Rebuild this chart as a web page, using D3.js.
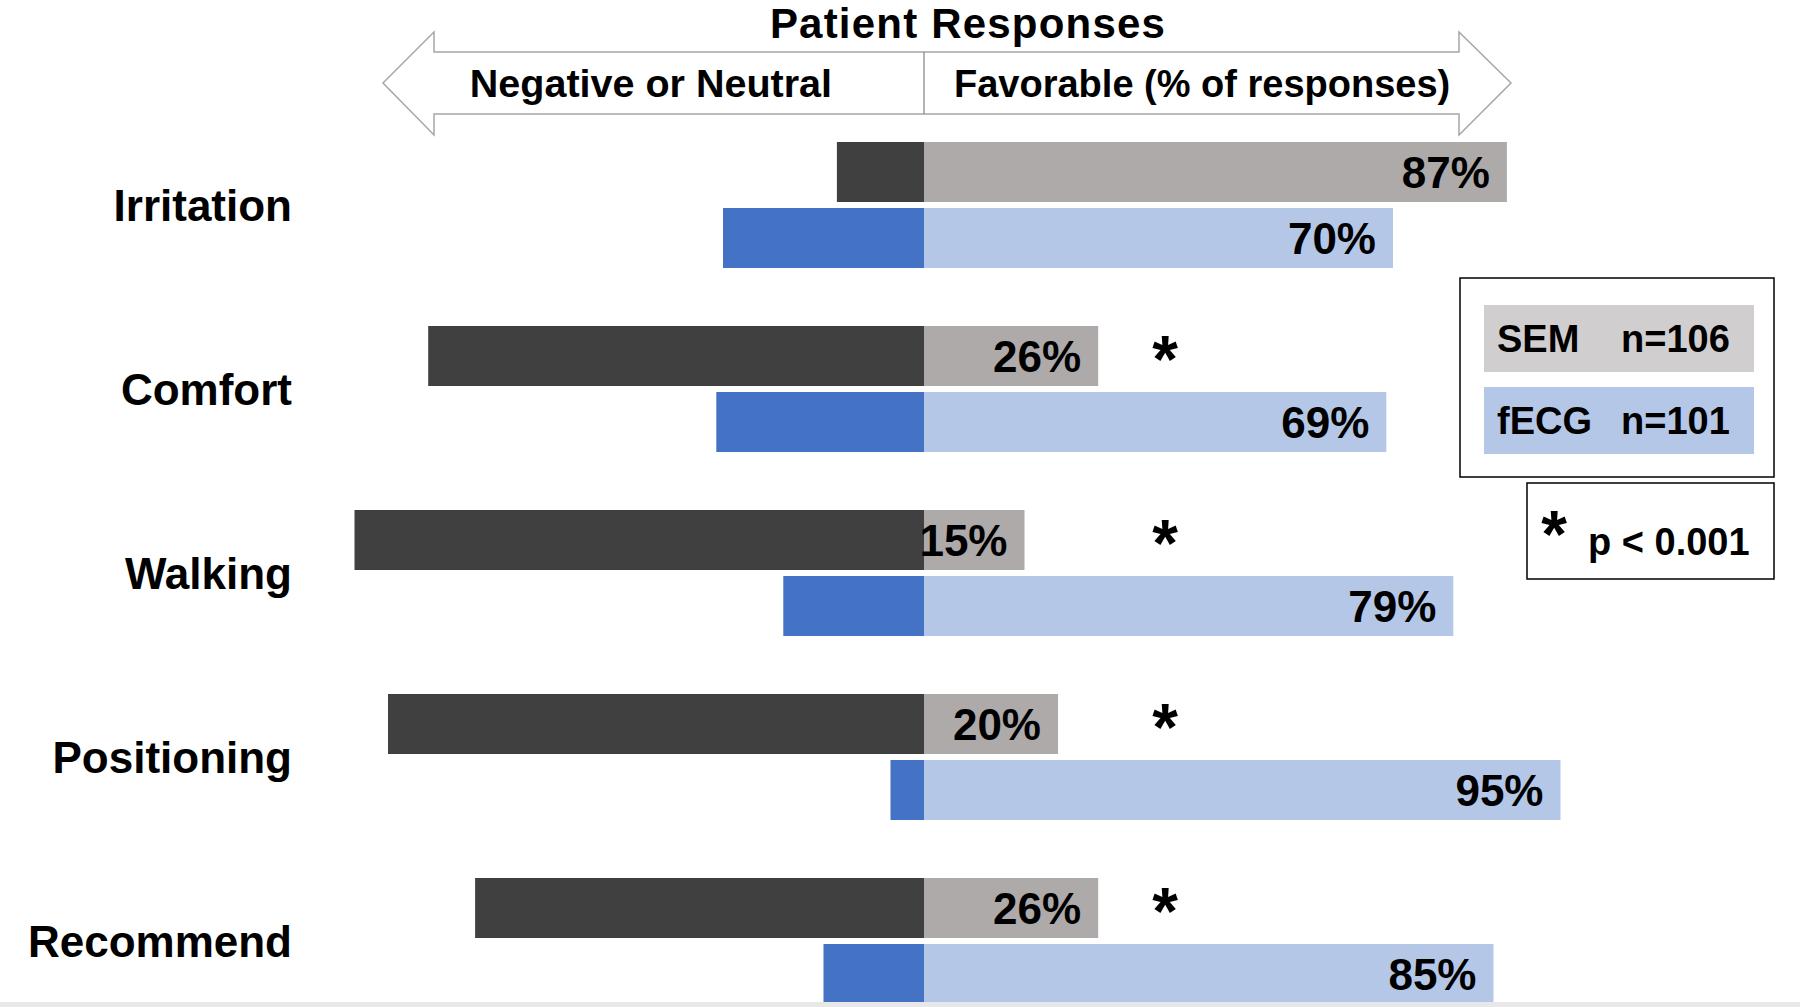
<!DOCTYPE html>
<html>
<head>
<meta charset="utf-8">
<script src="https://cdn.jsdelivr.net/npm/d3@7"></script>
<style>
  html, body { margin: 0; padding: 0; background: #fff; }
  svg { display: block; }
  text { font-family: "Liberation Sans", Arial, sans-serif; font-weight: bold; fill: #000; }
</style>
</head>
<body>
<script>
// ---- Data ----
const categories     = ["Irritation", "Comfort", "Walking", "Positioning", "Recommend"];
const groups         = ["SEM", "fECG"];
const semFavorable   = [87, 26, 15, 20, 26];
const semNegative    = [13, 74, 85, 80, 67];
const fecgFavorable  = [70, 69, 79, 95, 85];
const fecgNegative   = [30, 31, 21, 5, 15];
const significant    = [false, true, true, true, true];
const legendLabels   = ["SEM", "fECG"];
const legendCounts   = ["n=106", "n=101"];
const titleText      = "Patient Responses";
const leftHeader     = "Negative or Neutral";
const rightHeader    = "Favorable (% of responses)";
const sigNote        = "p < 0.001";

const W = 1800, H = 1007;
const colors = {
  SEM:  { neg: "#404040", fav: "#aeaaaa", legend: "#d0cece" },
  fECG: { neg: "#4472c4", fav: "#b4c7e7", legend: "#b4c7e7" }
};

const rows = categories.map((c, i) => ({
  category: c,
  sig: significant[i],
  bars: [
    { group: "SEM",  fav: semFavorable[i],  neg: semNegative[i] },
    { group: "fECG", fav: fecgFavorable[i], neg: fecgNegative[i] }
  ]
}));

const svg = d3.select("body").append("svg").attr("width", W).attr("height", H);

// Scales
const x = d3.scaleLinear().domain([-100, 100]).range([254, 1594]);
const y = d3.scaleBand().domain(categories).range([142, 1004]).paddingInner(1 - 126 / 184).paddingOuter(0);
const yInner = d3.scaleBand().domain(groups).range([0, y.bandwidth()]).paddingInner(0.091).paddingOuter(0);

// ---- Header double arrow ----
const x0 = x(0);
const tipL = 383, baseL = 434, baseR = 1459, tipR = 1511;
const shaftTop = 52, shaftBot = 114, headTop = 32, headBot = 135, midY = 83;
const arrowPts = [
  [tipL, midY], [baseL, headTop], [baseL, shaftTop], [baseR, shaftTop], [baseR, headTop],
  [tipR, midY], [baseR, headBot], [baseR, shaftBot], [baseL, shaftBot], [baseL, headBot]
];
svg.append("path")
  .attr("d", d3.line()(arrowPts) + "Z")
  .attr("fill", "#fff").attr("stroke", "#a6a6a6").attr("stroke-width", 1.5);
svg.append("line")
  .attr("x1", x0).attr("x2", x0).attr("y1", shaftTop).attr("y2", shaftBot)
  .attr("stroke", "#808080").attr("stroke-width", 1.2);

svg.append("text").attr("x", 968).attr("y", 38).attr("text-anchor", "middle")
  .style("font-size", "42px").style("letter-spacing", "1.2px").text(titleText);
svg.append("text").attr("x", x0 - 92).attr("y", 97).attr("text-anchor", "end")
  .style("font-size", "39.5px").text(leftHeader);
svg.append("text").attr("x", x0 + 30).attr("y", 97).attr("text-anchor", "start")
  .style("font-size", "38px").text(rightHeader);

// ---- Bars ----
const g = svg.selectAll("g.row").data(rows).join("g")
  .attr("class", "row")
  .attr("transform", d => `translate(0,${y(d.category)})`);

g.append("text")
  .attr("x", 292)
  .attr("y", y.bandwidth() / 2)
  .attr("dy", "0.36em")
  .attr("text-anchor", "end")
  .style("font-size", "44px")
  .text(d => d.category);

const bar = g.selectAll("g.bar").data(d => d.bars).join("g")
  .attr("class", "bar")
  .attr("transform", d => `translate(0,${yInner(d.group)})`);

bar.append("rect")
  .attr("x", d => x(-d.neg))
  .attr("width", d => x(0) - x(-d.neg))
  .attr("height", yInner.bandwidth())
  .attr("fill", d => colors[d.group].neg);

bar.append("rect")
  .attr("x", x(0))
  .attr("width", d => x(d.fav) - x(0))
  .attr("height", yInner.bandwidth())
  .attr("fill", d => colors[d.group].fav);

bar.append("text")
  .attr("x", d => x(d.fav) - 17)
  .attr("y", yInner.bandwidth() / 2)
  .attr("dy", "0.36em")
  .attr("text-anchor", "end")
  .style("font-size", "44px")
  .text(d => d.fav + "%");

// significance asterisks next to SEM bars
g.filter(d => d.sig).append("text")
  .attr("x", x(36))
  .attr("y", yInner("SEM") + yInner.bandwidth() / 2 - 12)
  .attr("dy", "0.58em")
  .attr("text-anchor", "middle")
  .style("font-size", "66px")
  .text("*");

// ---- Legend box ----
const leg = svg.append("g");
leg.append("rect").attr("x", 1460).attr("y", 278).attr("width", 314).attr("height", 199)
  .attr("fill", "#fff").attr("stroke", "#000").attr("stroke-width", 1.5);
const legRows = leg.selectAll("g.li").data(legendLabels).join("g")
  .attr("class", "li")
  .attr("transform", (d, i) => `translate(1484,${305 + i * 82})`);
legRows.append("rect").attr("width", 270).attr("height", 67)
  .attr("fill", d => colors[d].legend);
legRows.append("text").attr("x", 13).attr("y", 33.5).attr("dy", "0.36em")
  .style("font-size", "38px").text(d => d);
legRows.append("text").attr("x", 137).attr("y", 33.5).attr("dy", "0.36em")
  .style("font-size", "38px").text((d, i) => legendCounts[i]);

// significance note box
leg.append("rect").attr("x", 1527).attr("y", 483).attr("width", 247).attr("height", 96)
  .attr("fill", "#fff").attr("stroke", "#000").attr("stroke-width", 1.5);
leg.append("text").attr("x", 1554).attr("y", 519).attr("dy", "0.58em")
  .attr("text-anchor", "middle").style("font-size", "66px").text("*");
leg.append("text").attr("x", 1588).attr("y", 555)
  .style("font-size", "38px").text(sigNote);

// bottom edge band
svg.append("rect").attr("x", 0).attr("y", 1002).attr("width", W).attr("height", 5)
  .attr("fill", "#e8e8e8");
</script>
</body>
</html>
